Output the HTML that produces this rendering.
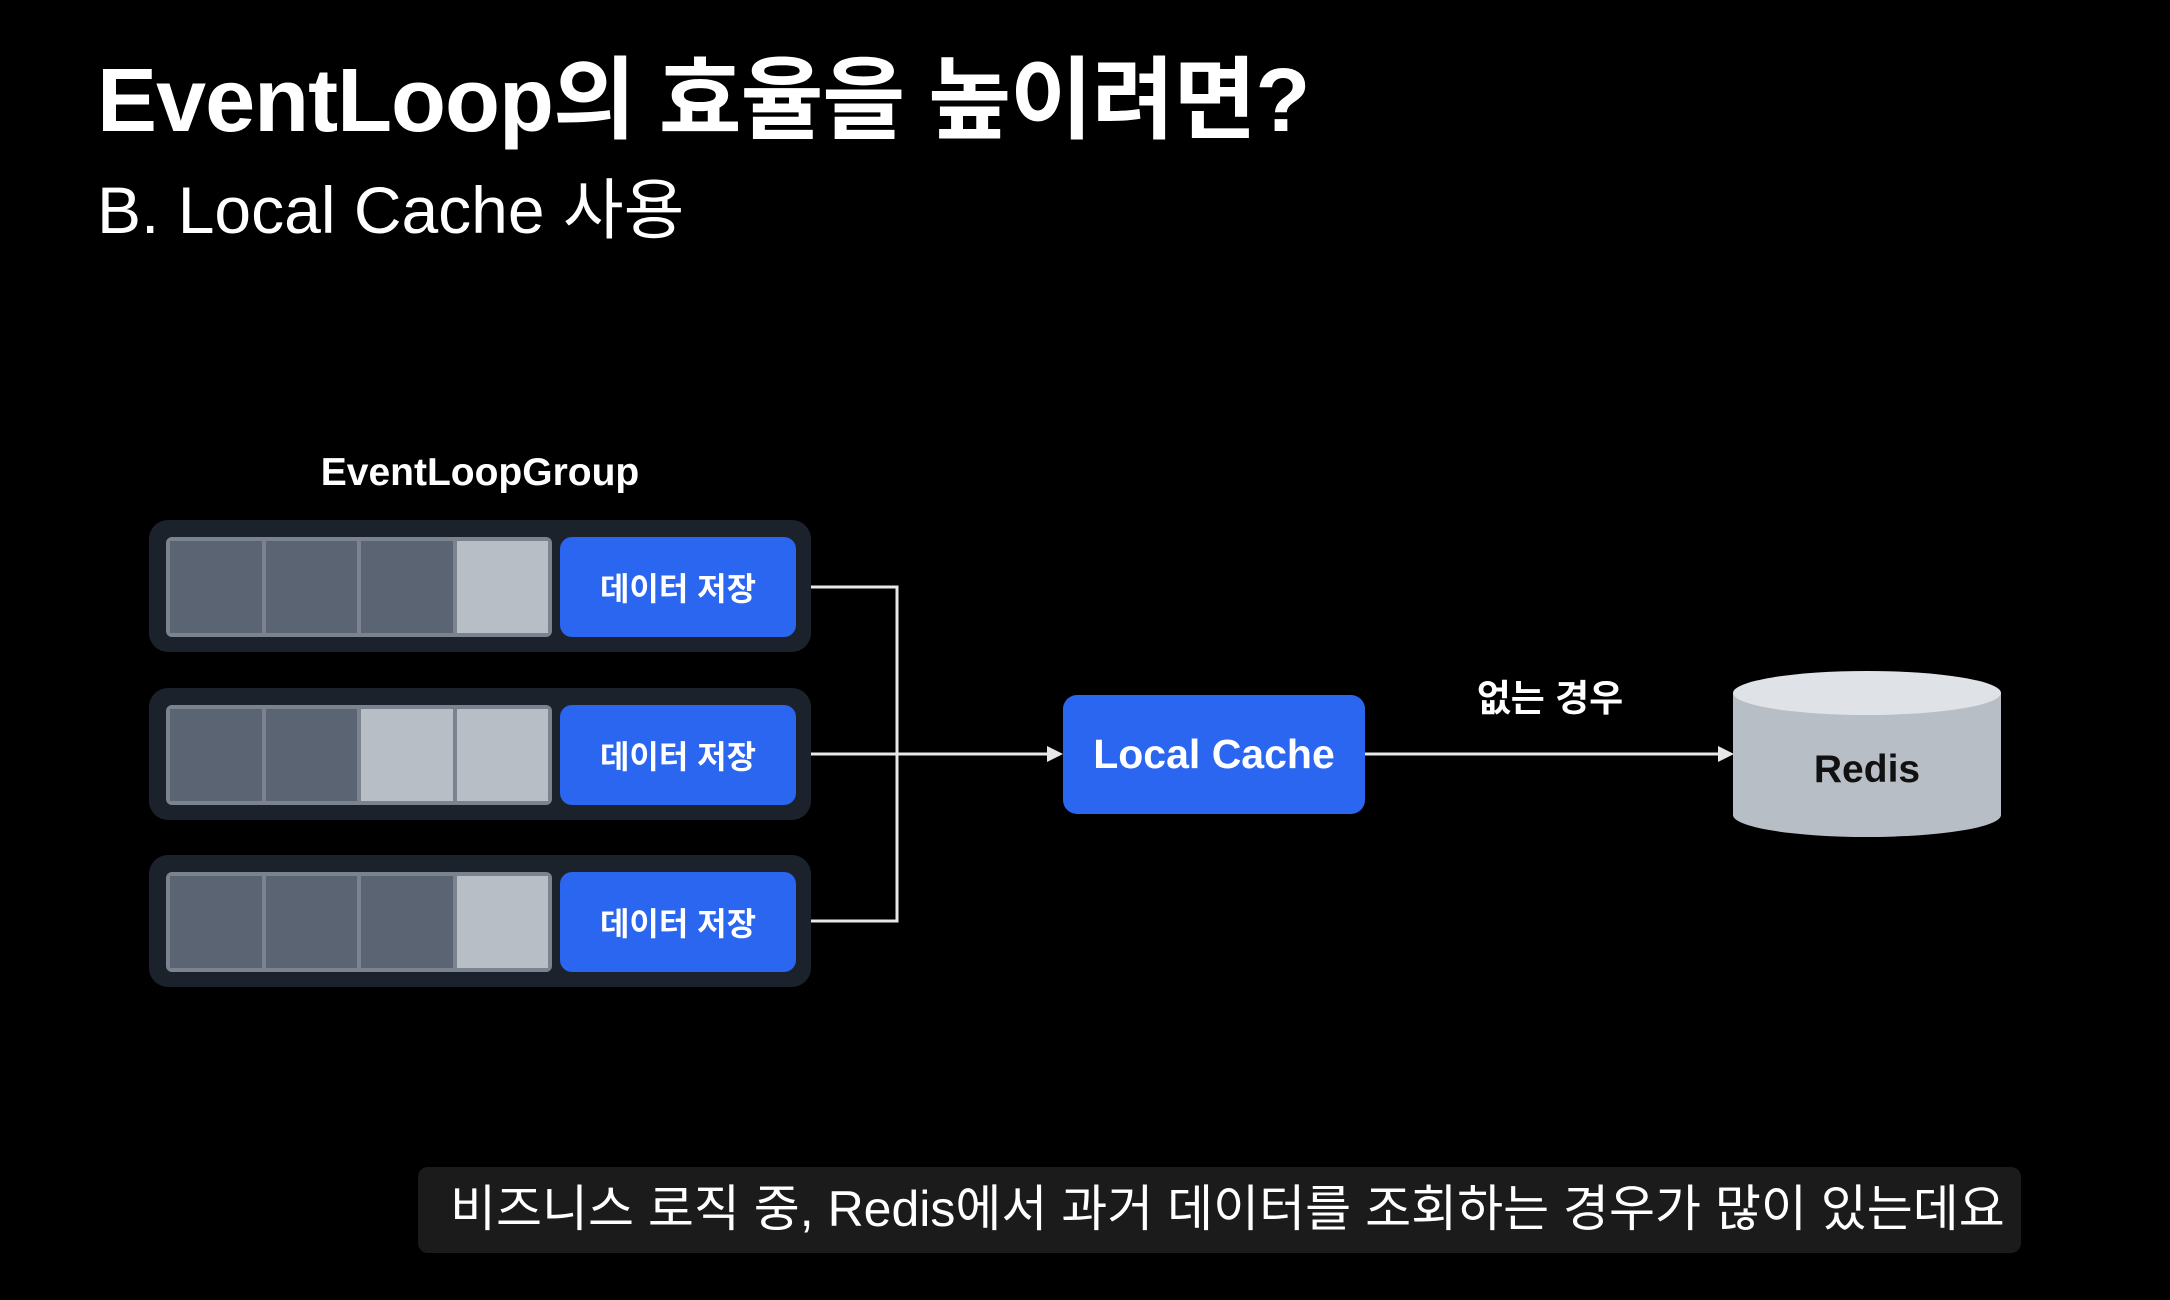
<!DOCTYPE html>
<html><head><meta charset="utf-8"><style>
html,body{margin:0;padding:0;background:#000;}
body{width:2170px;height:1300px;position:relative;overflow:hidden;font-family:"Liberation Sans","Noto Sans CJK KR",sans-serif;color:#fff;}
.abs{position:absolute;}
.title{left:97px;top:27px;font-size:90px;font-weight:bold;letter-spacing:-1px;white-space:nowrap;}
.sub{left:97px;top:157px;font-size:66px;white-space:nowrap;}
.grp{left:280px;top:451px;width:400px;text-align:center;font-size:39px;font-weight:bold;}
.row{left:149px;width:662px;height:132px;background:#1c222b;border-radius:19px;}
.cells{position:absolute;left:17px;top:17px;width:386px;height:100px;background:#7a838e;border-radius:6px;display:flex;gap:4px;padding:4px;box-sizing:border-box;}
.cells div{flex:1;background:#5a6472;}
.cells div.l{background:#b8bec6;}
.blue{position:absolute;left:411px;top:17px;width:236px;height:100px;background:#2b66f0;border-radius:12px;display:flex;align-items:center;justify-content:center;font-size:32px;font-weight:bold;}
.lc{left:1063px;top:695px;width:302px;height:119px;background:#2b66f0;border-radius:14px;display:flex;align-items:center;justify-content:center;font-size:41px;font-weight:bold;}
.cap{left:418px;top:1167px;width:1603px;height:86px;background:#1b1b1b;border-radius:10px;font-size:50px;line-height:84px;padding-left:32px;box-sizing:border-box;white-space:nowrap;}
</style></head><body>
<div class="abs title">EventLoop의 효율을 높이려면?</div>
<div class="abs sub">B. Local Cache 사용</div>
<div class="abs grp">EventLoopGroup</div>

<div class="abs row" style="top:520px"><div class="cells"><div></div><div></div><div></div><div class="l"></div></div><div class="blue">데이터 저장</div></div>
<div class="abs row" style="top:688px"><div class="cells"><div></div><div></div><div class="l"></div><div class="l"></div></div><div class="blue">데이터 저장</div></div>
<div class="abs row" style="top:855px"><div class="cells"><div></div><div></div><div></div><div class="l"></div></div><div class="blue">데이터 저장</div></div>

<svg class="abs" style="left:0;top:0" width="2170" height="1300">
<g stroke="#e8e8e8" stroke-width="3" fill="none">
<polyline points="811,587 897,587 897,921 811,921"/>
<line x1="811" y1="754" x2="1050" y2="754"/>
<line x1="1365" y1="754" x2="1720" y2="754"/>
</g>
<polygon points="1063,754 1047,746 1047,762" fill="#e8e8e8"/>
<polygon points="1734,754 1718,746 1718,762" fill="#e8e8e8"/>
<path d="M1733,693 L1733,815 A134,22 0 0 0 2001,815 L2001,693 Z" fill="#b8bec5"/>
<ellipse cx="1867" cy="693" rx="134" ry="22" fill="#dfe2e6"/>
<text x="1867" y="782" text-anchor="middle" font-family="Liberation Sans, sans-serif" font-size="39" font-weight="bold" fill="#111">Redis</text>
</svg>

<div class="abs lc">Local Cache</div>
<div class="abs" style="left:1450px;top:668px;width:200px;text-align:center;font-size:37px;font-weight:bold;">없는 경우</div>
<div class="abs cap">비즈니스 로직 중, Redis에서 과거 데이터를 조회하는 경우가 많이 있는데요</div>
</body></html>
